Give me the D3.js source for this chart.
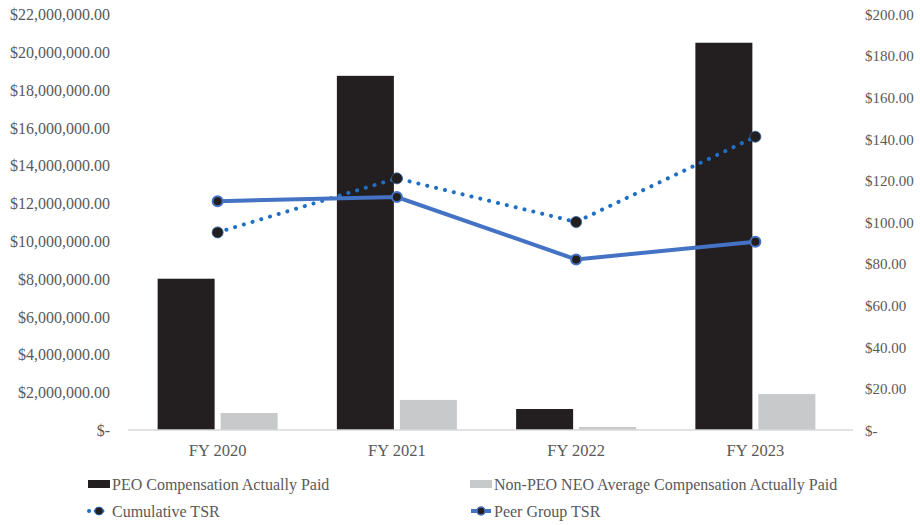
<!DOCTYPE html>
<html lang="en">
<head>
<meta charset="UTF-8">
<title>Pay versus performance</title>
<style>
  body { margin: 0; background: #fff; }
  text { font-family: "Liberation Serif", "Times New Roman", serif; fill: #595959; }
  .axis path, .axis line { display: none; }
</style>
<script src="https://cdn.jsdelivr.net/npm/d3@7"></script>
</head>
<body>
<div id="container"></div>
<script>
const years = ["FY 2020", "FY 2021", "FY 2022", "FY 2023"];
const peoComp = [8000000, 18730000, 1110000, 20480000];
const neoComp = [900000, 1590000, 160000, 1900000];
const cumulativeTSR = [95, 121, 100, 141];
const peerTSR = [110, 112, 82, 90.5];
const leftTicks = d3.range(0, 22000001, 2000000);
const rightTicks = d3.range(0, 201, 20);

const width = 920, height = 525;
const margin = {top: 14, right: 75, bottom: 95, left: 128};

const svg = d3.select("#container").append("svg")
  .attr("width", width).attr("height", height);

const x = d3.scaleBand().domain(years)
  .range([margin.left, width - margin.right]);
const yL = d3.scaleLinear().domain([0, 22000000])
  .range([height - margin.bottom, margin.top]);
const yR = d3.scaleLinear().domain([0, 200])
  .range([height - margin.bottom, margin.top]);

const money = d3.format(",.2f");
const fmt = v => v === 0 ? "$-" : "$" + money(v);

// left axis
svg.append("g").attr("class", "axis")
  .attr("transform", `translate(${margin.left - 18},0)`)
  .call(d3.axisLeft(yL).tickValues(leftTicks).tickFormat(fmt).tickSize(0).tickPadding(0))
  .selectAll("text").style("font-size", "16px").attr("dy", "0.35em");

// right axis
svg.append("g").attr("class", "axis")
  .attr("transform", `translate(${width - margin.right + 20},0)`)
  .call(d3.axisRight(yR).tickValues(rightTicks).tickFormat(fmt).tickSize(0).tickPadding(0))
  .selectAll("text").style("font-size", "15px").attr("dy", "0.35em");

// x axis labels
svg.append("g").attr("class", "axis")
  .attr("transform", `translate(0,${height - margin.bottom + 14})`)
  .call(d3.axisBottom(x).tickSize(0).tickPadding(0))
  .selectAll("text").style("font-size", "16.5px").attr("dy", "0.75em");

const barW = 57, gap = 6;
const cx = d => x(d) + x.bandwidth() / 2;

svg.append("g").selectAll("rect").data(years).join("rect")
  .attr("x", d => cx(d) - gap / 2 - barW)
  .attr("width", barW)
  .attr("y", (d, i) => yL(peoComp[i]))
  .attr("height", (d, i) => yL(0) - yL(peoComp[i]))
  .attr("fill", "#231f20");

svg.append("g").selectAll("rect").data(years).join("rect")
  .attr("x", d => cx(d) + gap / 2)
  .attr("width", barW)
  .attr("y", (d, i) => yL(neoComp[i]))
  .attr("height", (d, i) => yL(0) - yL(neoComp[i]))
  .attr("fill", "#c8c9cb");

// baseline
svg.append("line")
  .attr("x1", margin.left).attr("x2", width - margin.right + 8)
  .attr("y1", yL(0)).attr("y2", yL(0))
  .attr("stroke", "#d9d9d9").attr("stroke-width", 1.5);

const line = d3.line().x((d, i) => cx(years[i])).y(d => yR(d));

svg.append("path").datum(cumulativeTSR)
  .attr("d", line).attr("fill", "none")
  .attr("stroke", "#1f6fc5").attr("stroke-width", 4)
  .attr("stroke-linecap", "round").attr("stroke-dasharray", "0.1 9");

svg.append("path").datum(peerTSR)
  .attr("d", line).attr("fill", "none")
  .attr("stroke", "#4472c4").attr("stroke-width", 4);

svg.append("g").selectAll("circle").data(cumulativeTSR).join("circle")
  .attr("cx", (d, i) => cx(years[i])).attr("cy", d => yR(d)).attr("r", 5.5)
  .attr("fill", "#231f20").attr("stroke", "#2a5d9a").attr("stroke-width", 0.8);

svg.append("g").selectAll("circle").data(peerTSR).join("circle")
  .attr("cx", (d, i) => cx(years[i])).attr("cy", d => yR(d)).attr("r", 5)
  .attr("fill", "#231f20").attr("stroke", "#4472c4").attr("stroke-width", 2);

// legend
const legend = svg.append("g").style("font-size", "16px");
const items = [
  {label: "PEO Compensation Actually Paid", type: "bar", color: "#231f20", x: 88, y: 484},
  {label: "Non-PEO NEO Average Compensation Actually Paid", type: "bar", color: "#c8c9cb", x: 470, y: 484},
  {label: "Cumulative TSR", type: "dot", color: "#1f6fc5", x: 88, y: 511},
  {label: "Peer Group TSR", type: "solid", color: "#4472c4", x: 470, y: 511}
];
items.forEach(it => {
  const g = legend.append("g").attr("transform", `translate(${it.x},${it.y})`);
  if (it.type === "bar") {
    g.append("rect").attr("x", 0).attr("y", -4).attr("width", 22).attr("height", 8).attr("fill", it.color);
  } else {
    g.append("line").attr("x1", 1).attr("x2", 21).attr("y1", 0).attr("y2", 0)
      .attr("stroke", it.color).attr("stroke-width", 4)
      .attr("stroke-linecap", it.type === "dot" ? "round" : "butt")
      .attr("stroke-dasharray", it.type === "dot" ? "0.1 6.6" : null);
    g.append("circle").attr("cx", 11).attr("cy", 0).attr("r", 4)
      .attr("fill", "#231f20").attr("stroke", it.color).attr("stroke-width", it.type === "dot" ? 0.8 : 1.5);
  }
  g.append("text").attr("x", 24).attr("y", 0).attr("dy", "0.35em").text(it.label);
});
</script>
</body>
</html>
